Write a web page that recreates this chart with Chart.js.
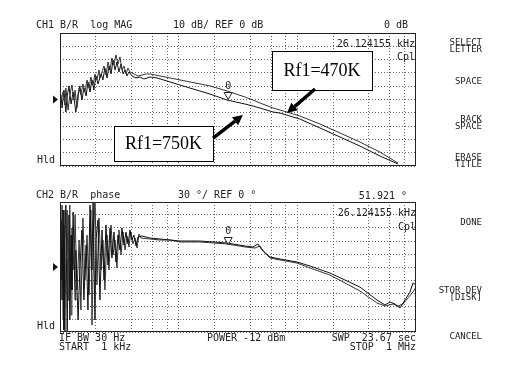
<!DOCTYPE html>
<html>
<head>
<meta charset="utf-8">
<script src="https://cdn.jsdelivr.net/npm/chart.js@4.4.0/dist/chart.umd.min.js"></script>
<style>
  body { margin: 0; background: #fff; }
  #wrap { position: relative; width: 523px; height: 368px; overflow: hidden; background: #fff; }
  canvas { position: absolute; left: 0; }
  .t { position: absolute; font: 10px "DejaVu Sans Mono", monospace; color: #222; white-space: pre; line-height: 10px; }
  .r { text-align: right; }
  .m { position: absolute; right: 41px; font: 9px "DejaVu Sans Mono", monospace; color: #222; white-space: pre; line-height: 7px; text-align: right; }
</style>
</head>
<body>
<div id="wrap">
  <canvas id="magChart" width="523" height="184" style="top:0"></canvas>
  <canvas id="phaseChart" width="523" height="184" style="top:184px"></canvas>

  <!-- channel 1 annotations -->
  <div class="t" style="left:36px;top:20px">CH1 B/R  log MAG</div>
  <div class="t" style="left:173px;top:20px">10 dB/ REF 0 dB</div>
  <div class="t r" style="right:115px;top:20px">0 dB</div>
  <div class="t r" style="right:108px;top:39px">26.124155 kHz</div>
  <div class="t r" style="right:108px;top:52px">Cpl</div>
  <div class="t" style="left:37px;top:155px">Hld</div>

  <!-- channel 2 annotations -->
  <div class="t" style="left:36px;top:190px">CH2 B/R  phase</div>
  <div class="t" style="left:178px;top:190px">30 °/ REF 0 °</div>
  <div class="t r" style="right:116px;top:191px">51.921 °</div>
  <div class="t r" style="right:107px;top:208px">26.124155 kHz</div>
  <div class="t r" style="right:107px;top:222px">Cpl</div>
  <div class="t" style="left:37px;top:321px">Hld</div>
  <div class="t" style="left:59px;top:333px">IF BW 30 Hz</div>
  <div class="t" style="left:59px;top:342px">START  1 kHz</div>
  <div class="t" style="left:207px;top:333px">POWER -12 dBm</div>
  <div class="t r" style="right:107px;top:333px">SWP  23.67 sec</div>
  <div class="t r" style="right:107px;top:342px">STOP  1 MHz</div>

  <!-- softkey menu -->
  <div class="m" style="top:39px">SELECT<br>LETTER</div>
  <div class="m" style="top:78px">SPACE</div>
  <div class="m" style="top:116px">BACK<br>SPACE</div>
  <div class="m" style="top:154px">ERASE<br>TITLE</div>
  <div class="m" style="top:219px">DONE</div>
  <div class="m" style="top:287px">STOR DEV<br>[DISK]</div>
  <div class="m" style="top:333px">CANCEL</div>
</div>

<script>
// ---- data ----
const gridFreqs = [2000, 4000, 6000, 8000, 10000, 20000, 40000, 60000, 80000,
  100000, 200000, 400000, 600000, 800000];

const markerFreq = 26124.155;
const markerMag = 0;
const markerPhase = 51.921;

// CH1 log MAG, trace A (upper)
const magFreqA = [1020, 1060, 1100, 1120, 1170, 1210, 1260, 1310, 1340, 1390, 1450, 1500,
  1560, 1620, 1690, 1760, 1820, 1900, 1970, 2050, 2130, 2170, 2260, 2350, 2440, 2540, 2640,
  2740, 2850, 2960, 3080, 3200, 3330, 3460, 3600, 3740, 3890, 4200, 4540, 4910, 5300, 5730,
  6960, 8450, 10260, 12460, 18370, 25550, 36200, 42300, 48400, 62400, 71400, 105000, 155000,
  229000, 337000, 497000, 705000];
const magDbA = [-0.4, 5.6, -4.1, 8.6, -7.9, 3.4, 10.9, -0.4, 7.1, -6.4, 8.6, 3.4,
  11.7, 5.6, 14.7, 8.6, 16.9, 10.9, 19.2, 14.7, 22.2, 16.2, 20.7, 25.2, 18.4, 28.2, 22.2,
  31.2, 25.9, 33.5, 26.7, 32, 22.2, 25.2, 19.2, 23.7, 20.7, 19.2, 17.7, 18.4, 19.2, 19.2,
  17.7, 16.2, 14.7, 13.2, 10.2, 6.4, 1.9, -0.4, -2.6, -6.4, -7.9, -12.4, -18.4,
  -25.2, -32, -39.5, -47.8];

// CH1 log MAG, trace B (lower)
const magFreqB = [1020, 1040, 1080, 1120, 1150, 1190, 1240, 1290, 1360, 1420, 1470, 1530,
  1590, 1660, 1720, 1790, 1860, 1930, 2010, 2090, 2220, 2300, 2390, 2490, 2590, 2690, 2800,
  2910, 3020, 3140, 3270, 3400, 3530, 3670, 3810, 4040, 4370, 4720, 5100, 5730, 6570, 8450,
  10260, 12460, 18370, 25550, 36200, 42300, 48400, 62400, 71400, 105000, 155000, 229000,
  337000, 497000, 705000];
const magDbB = [3.4, -6.4, 7.1, -9.4, 2.6, 10.2, -3.4, 5.6, -9.4, 4.1, 10.2, -0.4,
  8.6, 2.6, 13.2, 5.6, 14.7, 7.1, 17.7, 11.7, 19.2, 14.7, 23.7, 16.2, 25.2, 19.2, 29.7,
  22.2, 28.2, 20.7, 26.7, 19.2, 22.2, 17.7, 20.7, 17.7, 16.2, 16.9, 15.4, 16.9, 16.2, 13.2,
  10.9, 8.6, 4.1, -0.4, -3.4, -4.9, -6.4, -9.4, -10.2, -14.7, -21.4, -28.2,
  -35, -42.5, -48.5];

// CH2 phase, trace A
const phaseFreqA = [1000, 1020, 1040, 1060, 1080, 1100, 1120, 1150, 1170, 1190, 1210, 1240,
  1260, 1290, 1340, 1360, 1420, 1470, 1530, 1590, 1660, 1720, 1790, 1860, 1900, 1970, 2010,
  2090, 2170, 2260, 2350, 2440, 2540, 2640, 2740, 2850, 2960, 3080, 3200, 3330, 3460, 3600,
  3740, 3890, 4040, 4200, 4370, 4540, 4910, 5730, 6960, 8450, 10260, 15100, 25550, 36200,
  42300, 46600, 50400, 58800, 71400, 99300, 128000, 188000, 252000, 337000, 469000, 548000,
  604000, 665000, 733000, 807000, 890000, 943000, 1000000];
const phaseDegA = [39.2, 108.5, -76.2, 131.5, -145.4, 62.3, 143, -155, 16.2, 120, -122.3, 73.8,
  -53.1, 126.9, -76.2, 39.2, -122.3, -6.9, 85.4, -76.2, 50.8, -99.2, 143, -6.9, 160, -122.3, 62.3,
  108.5, -76.2, 85.4, -30, 97, 4.6, 90, 20.8, 80.8, 11.5, 73.8, 39.2, 90, 50.8, 80.8,
  53.1, 85.4, 62.3, 73.8, 48.5, 69.2, 71.5, 66.9, 64.6, 62.3, 60, 60, 55.4, 48.5,
  46.2, 53.1, 39.2, 23.1, 18.5, 11.5, 2.3, -13.8, -30, -46.2, -76.2, -87.7,
  -80.8, -85.4, -94.6, -76.2, -57.7, -36.9, -41.5];

// CH2 phase, trace B
const phaseFreqB = [1000, 1020, 1040, 1060, 1080, 1100, 1120, 1150, 1170, 1190, 1210, 1240,
  1260, 1310, 1340, 1390, 1450, 1500, 1560, 1620, 1690, 1760, 1820, 1860, 1930, 1970, 2050,
  2130, 2220, 2300, 2390, 2490, 2590, 2690, 2800, 2910, 3020, 3140, 3270, 3400, 3530, 3670,
  3810, 3960, 4120, 4290, 4460, 4630, 4820, 5730, 6960, 8450, 10260, 15100, 25550, 36200,
  44000, 48400, 52400, 58800, 71400, 99300, 128000, 188000, 252000, 337000, 469000, 548000,
  640000, 705000, 777000, 856000, 943000, 1000000];
const phaseDegB = [85.4, -30, 143, -122.3, 97, -155, 16.2, 131.5, -76.2, 50.8, 143, -110.8,
  90, -6.9, 120, -53.1, 62.3, -99.2, 113, -30, 73.8, -64.6, 131.5, -133.8, 85.4, 160, -41.5,
  113, -6.9, 62.3, -53.1, 73.8, -6.9, 97, 27.7, 62.3, -2.3, 85.4, 27.7, 80.8, 39.2, 71.5,
  46.2, 80.8, 53.1, 66.9, 43.8, 76.2, 66.9, 64.6, 62.3, 62.3, 57.7, 57.7, 53.1, 46.2,
  43.8, 48.5, 34.6, 20.8, 16.2, 9.2, -2.3, -18.5, -36.9, -55.4, -83.1, -90,
  -85.4, -90, -85.4, -71.5, -57.7, -46.2];

// text boxes + arrows on CH1 (in freq / dB)
const callouts = [
  { text: 'Rf1=750K', box: [2850, 19500, -19.9, -46.2], from: [19500, -29], to: [34800, -11.7] },
  { text: 'Rf1=470K', box: [61200, 426000, 36.5, 7.1], from: [141000, 7.9], to: [81800, -10.2] }
];

// ---- plugins ----
const framePlugin = {
  id: 'frame',
  afterDatasetsDraw(chart) {
    const { ctx, chartArea: a } = chart;
    ctx.save();
    ctx.strokeStyle = '#222';
    ctx.lineWidth = 1;
    ctx.strokeRect(a.left + 0.5, a.top + 0.5, a.width - 1, a.height - 1);
    // reference position arrow on the left
    const yRef = chart.scales.y.getPixelForValue(0);
    ctx.fillStyle = '#111';
    ctx.beginPath();
    ctx.moveTo(a.left - 7, yRef - 4);
    ctx.lineTo(a.left - 2, yRef);
    ctx.lineTo(a.left - 7, yRef + 4);
    ctx.closePath();
    ctx.fill();
    ctx.restore();
  }
};

const markerPlugin = {
  id: 'marker',
  afterDatasetsDraw(chart, args, opts) {
    if (opts.y === undefined) return;
    const { ctx } = chart;
    const x = chart.scales.x.getPixelForValue(opts.x);
    const y = chart.scales.y.getPixelForValue(opts.y);
    ctx.save();
    ctx.strokeStyle = '#222';
    ctx.lineWidth = 1;
    ctx.beginPath();
    ctx.moveTo(x, y);
    ctx.lineTo(x - 4, y - 7);
    ctx.lineTo(x + 4, y - 7);
    ctx.closePath();
    ctx.fillStyle = '#fff';
    ctx.fill();
    ctx.stroke();
    ctx.fillStyle = '#222';
    ctx.font = '10px "DejaVu Sans Mono", monospace';
    ctx.textAlign = 'center';
    ctx.textBaseline = 'bottom';
    ctx.fillText('0', x, y - 8);
    ctx.restore();
  }
};

const calloutPlugin = {
  id: 'callouts',
  afterDraw(chart, args, opts) {
    if (!opts.items) return;
    const { ctx, scales: { x, y } } = chart;
    opts.items.forEach(c => {
      const x1 = x.getPixelForValue(c.box[0]), x2 = x.getPixelForValue(c.box[1]);
      const y1 = y.getPixelForValue(c.box[2]), y2 = y.getPixelForValue(c.box[3]);
      ctx.save();
      ctx.fillStyle = '#fff';
      ctx.fillRect(x1, y1, x2 - x1, y2 - y1);
      ctx.strokeStyle = '#000';
      ctx.lineWidth = 1;
      ctx.strokeRect(Math.round(x1) + 0.5, Math.round(y1) + 0.5, Math.round(x2 - x1), Math.round(y2 - y1));
      ctx.fillStyle = '#000';
      ctx.font = '18px "Liberation Serif", serif';
      ctx.textAlign = 'center';
      ctx.textBaseline = 'middle';
      ctx.fillText(c.text, (x1 + x2) / 2, (y1 + y2) / 2 + 1);

      // arrow
      const fx = x.getPixelForValue(c.from[0]), fy = y.getPixelForValue(c.from[1]);
      const tx = x.getPixelForValue(c.to[0]), ty = y.getPixelForValue(c.to[1]);
      const ang = Math.atan2(ty - fy, tx - fx);
      const hl = 10, hw = 5;
      const bx = tx - hl * Math.cos(ang), by = ty - hl * Math.sin(ang);
      ctx.strokeStyle = '#000';
      ctx.lineWidth = 3.5;
      ctx.beginPath();
      ctx.moveTo(fx, fy);
      ctx.lineTo(bx, by);
      ctx.stroke();
      ctx.beginPath();
      ctx.moveTo(tx, ty);
      ctx.lineTo(bx + hw * Math.sin(ang), by - hw * Math.cos(ang));
      ctx.lineTo(bx - hw * Math.sin(ang), by + hw * Math.cos(ang));
      ctx.closePath();
      ctx.fill();
      ctx.restore();
    });
  }
};

// ---- chart builder ----
function toPoints(xs, ys) {
  return xs.map((v, i) => ({ x: v, y: ys[i] }));
}

function traceStyle(color) {
  return { borderColor: color, borderWidth: 1, pointRadius: 0, tension: 0, fill: false };
}

function makeChart(id, datasets, yMin, yMax, yStep, pad, pluginOpts) {
  return new Chart(document.getElementById(id), {
    type: 'line',
    data: { datasets },
    plugins: [framePlugin, markerPlugin, calloutPlugin],
    options: {
      responsive: false,
      animation: false,
      events: [],
      parsing: true,
      layout: { padding: pad },
      plugins: { legend: { display: false }, tooltip: { enabled: false }, ...pluginOpts },
      scales: {
        x: {
          type: 'logarithmic',
          min: 1000,
          max: 1000000,
          afterBuildTicks: s => { s.ticks = gridFreqs.map(v => ({ value: v })); },
          ticks: { display: false },
          grid: { color: '#666', drawTicks: false, lineWidth: 1 },
          border: { display: false, dash: [1, 2] }
        },
        y: {
          min: yMin,
          max: yMax,
          ticks: { display: false, stepSize: yStep },
          grid: { color: '#666', drawTicks: false, lineWidth: 1 },
          border: { display: false, dash: [1, 2] }
        }
      }
    }
  });
}

makeChart('magChart', [
  { data: toPoints(magFreqA, magDbA), ...traceStyle('#333') },
  { data: toPoints(magFreqB, magDbB), ...traceStyle('#111') }
], -50, 50, 10, { left: 60, top: 33, right: 107, bottom: 18 }, {
  marker: { x: markerFreq, y: markerMag },
  callouts: { items: callouts }
});

makeChart('phaseChart', [
  { data: toPoints(phaseFreqA, phaseDegA), ...traceStyle('#111') },
  { data: toPoints(phaseFreqB, phaseDegB), ...traceStyle('#333') }
], -150, 150, 30, { left: 60, top: 18, right: 107, bottom: 36 }, {
  marker: { x: markerFreq, y: markerPhase }
});
</script>
</body>
</html>
